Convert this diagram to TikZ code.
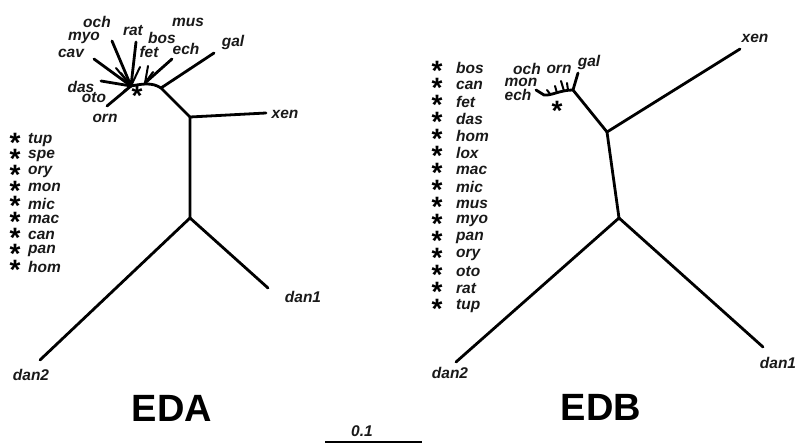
\documentclass[tikz,border=0pt]{standalone}
\usepackage{fontspec}
\setmainfont{Liberation Sans}
\newcommand\labf{\fontsize{15.5}{16}\selectfont\bfseries\itshape}
\begin{document}
\begin{tikzpicture}[x=1pt,y=-1pt,
  br/.style={line width=2.8pt, line cap=round, line join=round},
  stub/.style={line width=2pt, line cap=round},
  barline/.style={line width=2pt},
  lab/.style={font=\labf, inner sep=0pt, text=black!90},
  big/.style={font=\fontsize{38}{40}\selectfont\bfseries, inner sep=0pt},
  ast/.style={font=\fontsize{28}{28}\selectfont\bfseries, inner sep=0pt, anchor=base}]
\useasboundingbox (0,0) rectangle (797,443);

% ---------------- EDA (left) ----------------
\coordinate (Lroot) at (190,218);
\coordinate (Ld2) at (40,360);
\coordinate (Ld1) at (268,288);
\coordinate (Ln1) at (190,117);
\coordinate (Lxen) at (266,113);
\coordinate (Ln2) at (161,88);
\coordinate (Lgal) at (214,53);
\coordinate (Lhub) at (131,86);
\coordinate (Lech0) at (145,83);
\coordinate (Loch) at (112,41);
\coordinate (Lrat) at (136,42);
\coordinate (Lech) at (172,59);
\coordinate (Lcav) at (94,59);
\coordinate (Ldas) at (101,81);
\coordinate (Lorn) at (107,106);
\coordinate (Ls1) at (116,68);
\coordinate (Ls2) at (121,73);
\coordinate (Ls3) at (140,67);
\coordinate (Ls4) at (148,66);
\coordinate (Ls5) at (153,72);
\coordinate (Ls6) at (124,91);

\draw[br] (Ld2) -- (Lroot) -- (Ld1);
\draw[br] (Lroot) -- (Ln1) -- (Lxen);
\draw[br] (Ln1) -- (Ln2) -- (Lgal);
\draw[br] (Ln2) .. controls (152,82) and (142,84) .. (Lhub);
\draw[br] (Lhub) -- (Loch);
\draw[br] (Lhub) -- (Lrat);
\draw[br] (Lhub) -- (Lcav);
\draw[br] (Lhub) -- (Ldas);
\draw[br] (Lhub) -- (Lorn);
\draw[br] (Lech0) -- (Lech);
\draw[stub] (Lhub) -- (Ls1);
\draw[stub] (Lhub) -- (Ls2);
\draw[stub] (Lhub) -- (Ls3);
\draw[stub] (Lech0) -- (Ls4);
\draw[stub] (Lech0) -- (Ls5);
\draw[stub] (Lhub) -- (Ls6);

\node[lab] (lOch) at (97,22) {och};
\node[lab] (lMyo) at (84,38) {myo};
\node[lab] (lCav) at (71,53) {cav};
\node[lab] (lRat) at (133,31) {rat};
\node[lab] (lFet) at (149,52) {fet};
\node[lab] (lBos) at (162,38) {bos};
\node[lab] (lMus) at (188,22) {mus};
\node[lab] (lEch) at (186,49) {ech};
\node[lab] (lGal) at (233,42) {gal};
\node[lab] (lDas) at (81,87) {das};
\node[lab] (lOto) at (94,98) {oto};
\node[lab] (lOrn) at (105,118) {orn};
\node[lab] (lXen) at (285,114) {xen};
\node[lab] (lDan1) at (303,297) {dan1};
\node[lab] (lDan2) at (31,375) {dan2};
\node[ast] (lAst) at (137,{93+0.44*28}) {\smash{*}};

\foreach \t [count=\i] in {tup,spe,ory,mon,mic,mac,can,pan,hom} {
  \node[ast] (LA\i) at (15,{140+15.9*(\i-1)+0.44*28}) {\smash{*}};
  \node[lab,anchor=west] (LL\i) at (28,{140+15.9*(\i-1)}) {\t};
}
\node[big] (EDA) at (172,408) {EDA};

% ---------------- EDB (right) ----------------
\coordinate (Rroot) at (619,218);
\coordinate (Rd2) at (456,362);
\coordinate (Rd1) at (763,347);
\coordinate (Rn1) at (607,132);
\coordinate (Rxen) at (740,49);
\coordinate (Rhub) at (573,90);
\coordinate (Rgal) at (578,73);
\coordinate (Rbend) at (544,95);
\coordinate (Rech) at (536,90);
\coordinate (Rs1a) at (547,90);
\coordinate (Rs1b) at (550,94);
\coordinate (Rs2a) at (555,86);
\coordinate (Rs2b) at (557,93);
\coordinate (Rs3a) at (561,81);
\coordinate (Rs3b) at (564,91);
\coordinate (Rs4a) at (567,83);
\coordinate (Rs4b) at (568,90);

\draw[br] (Rd2) -- (Rroot) -- (Rd1);
\draw[br] (Rroot) -- (Rn1) -- (Rxen);
\draw[br] (Rn1) -- (Rhub) -- (Rgal);
\draw[br] (Rhub) .. controls (560,90) and (551,96) .. (Rbend) -- (Rech);
\draw[stub] (Rs1a) -- (Rs1b);
\draw[stub] (Rs2a) -- (Rs2b);
\draw[stub] (Rs3a) -- (Rs3b);
\draw[stub] (Rs4a) -- (Rs4b);

\node[lab] (rOch) at (527,69) {och};
\node[lab] (rOrn) at (559,69) {orn};
\node[lab] (rGal) at (589,62) {gal};
\node[lab] (rMon) at (521,82) {mon};
\node[lab] (rEch) at (518,95) {ech};
\node[lab] (rXen) at (755,38) {xen};
\node[lab] (rDan1) at (778,363) {dan1};
\node[lab] (rDan2) at (450,373) {dan2};
\node[ast] (rAst) at (557,{108+0.44*28}) {\smash{*}};

\foreach \t [count=\i] in {bos,can,fet,das,hom,lox,mac,mic,mus,myo,pan,ory,oto,rat,tup} {
  \node[ast] (RA\i) at (437,{68+17*(\i-1)+0.44*28}) {\smash{*}};
  \node[lab,anchor=west] (RL\i) at (456,{68+17*(\i-1)}) {\t};
}
\node[big] (EDB) at (601,407) {EDB};

% ---------------- scale bar ----------------
\coordinate (sbA) at (325,442);
\coordinate (sbB) at (422,442);
\draw[barline] (sbA) -- (sbB);
\node[lab] (sbT) at (362,431) {0.1};
\end{tikzpicture}
\end{document}
